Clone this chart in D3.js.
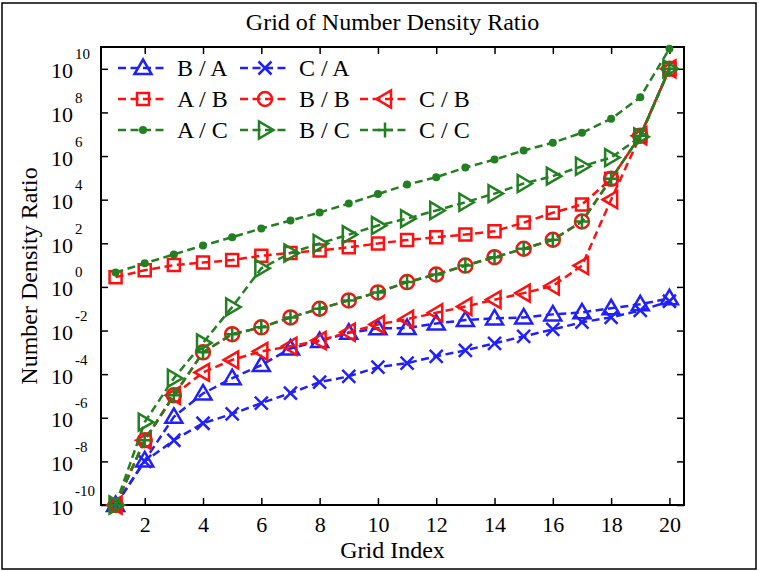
<!DOCTYPE html>
<html>
<head>
<meta charset="utf-8">
<script src="https://cdn.jsdelivr.net/npm/d3@7"></script>
<style>
  html, body { margin: 0; padding: 0; background: #fff; }
  svg { display: block; font-family: "Liberation Serif", "Times New Roman", serif; }
</style>
</head>
<body>
<svg id="chart" width="759" height="571"></svg>
<script>
// ---------------- data ----------------
const gridIndex = [1,2,3,4,5,6,7,8,9,10,11,12,13,14,15,16,17,18,19,20];
const xTicks = [2,4,6,8,10,12,14,16,18,20];
const yTickExponents = [-10,-8,-6,-4,-2,0,2,4,6,8,10];

const seriesNames = ["B / A","C / A","A / B","B / B","C / B","A / C","B / C","C / C"];

const valuesBA = [1e-10,1.1e-8,1.1e-6,1.3e-5,6.5e-5,2.6e-4,1.5e-3,3.3e-3,7.9e-3,1.26e-2,1.3e-2,2.1e-2,3.0e-2,3.6e-2,4.0e-2,5.5e-2,6.8e-2,1.05e-1,1.6e-1,3.0e-1];
const valuesCA = [1e-10,1.0e-8,9.3e-8,5.6e-7,1.5e-6,4.7e-6,1.35e-5,4.3e-5,7.9e-5,2.1e-4,3.2e-4,6.6e-4,1.23e-3,2.6e-3,5.4e-3,1.12e-2,2.4e-2,4.0e-2,8.3e-2,2.2e-1];
const valuesAB = [2.8,5.8,1.0e1,1.3e1,1.7e1,2.7e1,3.6e1,4.7e1,6.5e1,9.8e1,1.4e2,1.9e2,2.5e2,3.6e2,8.9e2,2.5e3,6.0e3,9.0e4,8.5e6,1e10];
const valuesBB = [1e-10,9.3e-8,1.07e-5,1.0e-3,6.8e-3,1.4e-2,4.0e-2,1.0e-1,2.4e-1,5.6e-1,1.66,3.7,9.5,2.3e1,5.6e1,1.45e2,1.0e3,9.0e4,8.5e6,1e10];
const valuesCB = [1e-10,9.3e-8,1.07e-5,1.2e-4,4.5e-4,1.1e-3,1.9e-3,3.5e-3,8.3e-3,1.9e-2,3.3e-2,6.5e-2,1.26e-1,2.6e-1,5.2e-1,1.1,9.5,1.0e4,8.5e6,1e10];
const valuesAC = [4.6,1.2e1,3.1e1,7.9e1,1.9e2,4.8e2,1.1e3,2.6e3,6.6e3,1.8e4,4.9e4,1.07e5,2.95e5,6.9e5,1.8e6,4.1e6,1.17e7,5.1e7,5.0e8,8.3e10];
const valuesBC = [1e-10,6.3e-7,6.5e-5,2.7e-3,1.2e-1,7.1,3.6e1,9.8e1,2.5e2,6.5e2,1.35e3,3.2e3,7.6e3,1.9e4,5.5e4,1.2e5,3.4e5,8.5e5,7.6e6,1e10];
const valuesCC = [1e-10,9.3e-8,1.07e-5,1.0e-3,6.8e-3,1.4e-2,4.0e-2,1.0e-1,2.4e-1,5.6e-1,1.66,3.7,9.5,2.3e1,5.6e1,1.45e2,1.0e3,9.0e4,8.5e6,1e10];

const seriesValues = [valuesBA, valuesCA, valuesAB, valuesBB, valuesCB, valuesAC, valuesBC, valuesCC];
const seriesColors = ["#2020ff","#2020ff","#ff1010","#ff1010","#ff1010","#228022","#228022","#228022"];
const seriesMarkers = ["triUp","cross","square","circle","triLeft","dot","triRight","plus"];
// legend grid slot (row, column) of each series
const legendRow = [0,0,1,1,1,2,2,2];
const legendCol = [0,1,0,1,2,0,1,2];

// ---------------- layout ----------------
const svg = d3.select("#chart");
const L = 101, T = 47, R = 684, B = 505;

const x = d3.scaleLinear().domain([0.5, 20.5]).range([L, R]);
const y = d3.scaleLog().domain([1e-10, 1e11]).range([B, T]);

// outer border
svg.append("rect").attr("x", 2).attr("y", 3).attr("width", 754).attr("height", 566)
  .attr("fill", "none").attr("stroke", "#000").attr("stroke-width", 1.5);

// title
svg.append("text").attr("x", (L + R) / 2).attr("y", 30).attr("text-anchor", "middle")
  .attr("font-size", 24).text("Grid of Number Density Ratio");

// axes
const gx = svg.append("g").attr("transform", `translate(0,${B})`)
  .call(d3.axisBottom(x).tickValues(xTicks).tickSizeInner(-7).tickSizeOuter(0));
gx.selectAll("text").attr("y", 27).attr("dy", 0).attr("font-size", 22)
  .attr("font-family", "Liberation Serif").attr("fill", "#000");

const gxTop = svg.append("g").attr("transform", `translate(0,${T})`)
  .call(d3.axisTop(x).tickValues(xTicks).tickSizeInner(-7).tickSizeOuter(0).tickFormat(() => ""));

const yTickValues = yTickExponents.map(e => Math.pow(10, e));
const gy = svg.append("g").attr("transform", `translate(${L},0)`)
  .call(d3.axisLeft(y).tickValues(yTickValues).tickSizeInner(-7).tickSizeOuter(0).tickFormat(() => ""));
gy.selectAll(".tick").each(function(d, i) {
  const g = d3.select(this);
  g.select("text").remove();
  g.append("text").attr("x", -28).attr("y", 9).attr("text-anchor", "end")
    .attr("font-size", 22).attr("fill", "#000").attr("font-family", "Liberation Serif").text("10");
  g.append("text").attr("x", -26).attr("y", -10).attr("text-anchor", "start")
    .attr("font-size", 15).attr("fill", "#000").attr("font-family", "Liberation Serif")
    .text(String(yTickExponents[i]));
});
const gyRight = svg.append("g").attr("transform", `translate(${R},0)`)
  .call(d3.axisRight(y).tickValues(yTickValues).tickSizeInner(-7).tickSizeOuter(0).tickFormat(() => ""));

[gx, gxTop, gy, gyRight].forEach(g => {
  g.select(".domain").remove();
  g.selectAll(".tick line").attr("stroke", "#000").attr("stroke-width", 1.5);
});

svg.append("rect").attr("x", L).attr("y", T).attr("width", R - L).attr("height", B - T)
  .attr("fill", "none").attr("stroke", "#000").attr("stroke-width", 2);

// axis labels
svg.append("text").attr("x", (L + R) / 2).attr("y", 558).attr("text-anchor", "middle")
  .attr("font-size", 24).text("Grid Index");
svg.append("text").attr("transform", `translate(37,${(T + B) / 2}) rotate(-90)`)
  .attr("text-anchor", "middle").attr("font-size", 24).text("Number Density Ratio");

// markers
const markerPaths = {
  triUp: "M0,-8.5L8.5,6L-8.5,6Z",
  triLeft: "M-8.5,0L6,-8.5L6,8.5Z",
  triRight: "M8.5,0L-6,-8.5L-6,8.5Z",
  square: "M-6,-6H6V6H-6Z",
  cross: "M-6.5,-6.5L6.5,6.5M-6.5,6.5L6.5,-6.5",
  plus: "M-7.5,0H7.5M0,-7.5V7.5"
};
function drawMarker(g, type, color) {
  if (type === "circle") {
    g.append("circle").attr("r", 7).attr("fill", "none").attr("stroke", color).attr("stroke-width", 2.5);
  } else if (type === "dot") {
    g.append("circle").attr("r", 4).attr("fill", color).attr("stroke", "none");
  } else {
    g.append("path").attr("d", markerPaths[type]).attr("fill", "none")
      .attr("stroke", color).attr("stroke-width", 2.5).attr("stroke-linejoin", "miter");
  }
}

const plot = svg.append("g");
const line = d3.line().x((d, i) => x(gridIndex[i])).y(d => y(d));

seriesValues.forEach((vals, s) => {
  const color = seriesColors[s];
  plot.append("path").datum(vals).attr("d", line).attr("fill", "none")
    .attr("stroke", color).attr("stroke-width", 2.5).attr("stroke-dasharray", "8,4.5");
  vals.forEach((v, i) => {
    const g = plot.append("g").attr("transform", `translate(${x(gridIndex[i])},${y(v)})`);
    drawMarker(g, seriesMarkers[s], color);
  });
});

// legend
const legendCols = [118, 240, 360];
const legendRows = [68, 99, 130];
seriesNames.forEach((name, s) => {
  const cx = legendCols[legendCol[s]], cy = legendRows[legendRow[s]];
  const g = svg.append("g").attr("transform", `translate(${cx},${cy})`);
  g.append("line").attr("x1", 0).attr("x2", 50).attr("y1", 0).attr("y2", 0)
    .attr("stroke", seriesColors[s]).attr("stroke-width", 2.5).attr("stroke-dasharray", "8,4.5");
  const m = g.append("g").attr("transform", "translate(25,0)");
  drawMarker(m, seriesMarkers[s], seriesColors[s]);
  g.append("text").attr("x", 59).attr("y", 8).attr("font-size", 24).attr("fill", "#000").text(name);
});
</script>
</body>
</html>
